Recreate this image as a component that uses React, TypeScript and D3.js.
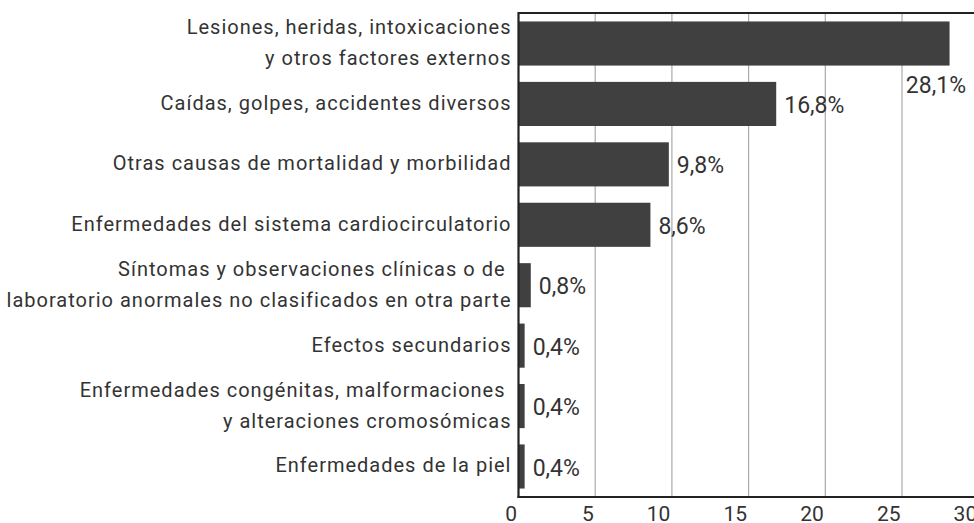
import React from "react";
import * as d3 from "d3";

const categories: string[][] = [
  ["Lesiones, heridas, intoxicaciones", "y otros factores externos"],
  ["Caídas, golpes, accidentes diversos"],
  ["Otras causas de mortalidad y morbilidad"],
  ["Enfermedades del sistema cardiocirculatorio"],
  ["Síntomas y observaciones clínicas o de ", "laboratorio anormales no clasificados en otra parte"],
  ["Efectos secundarios"],
  ["Enfermedades congénitas, malformaciones ", "y alteraciones cromosómicas"],
  ["Enfermedades de la piel"],
];
const values: number[] = [28.1, 16.8, 9.8, 8.6, 0.8, 0.4, 0.4, 0.4];
const valueLabels: string[] = ["28,1%", "16,8%", "9,8%", "8,6%", "0,8%", "0,4%", "0,4%", "0,4%"];
const ticks: number[] = [0, 5, 10, 15, 20, 25, 30];

const W = 974;
const H = 523;
const left = 518.5;
const top = 13;
const bottom = 497;
const FONT = "Roboto, 'DejaVu Sans', sans-serif";

export default function App() {
  const x = d3.scaleLinear().domain([0, 30]).range([left, left + 30 * 15.34]);
  const y = d3
    .scaleBand<number>()
    .domain(d3.range(values.length))
    .range([top, bottom])
    .paddingInner(0.27)
    .paddingOuter(0.14);
  const bw = y.bandwidth();
  return (
    <svg
      width={W}
      height={H}
      style={{ position: "absolute", left: 0, top: 0, background: "#fff" }}
      fontFamily={FONT}
    >
      {ticks
        .filter((t) => t > 0)
        .map((t) => (
          <line key={"g" + t} x1={x(t)} x2={x(t)} y1={top} y2={bottom} stroke="#aaaaaa" strokeWidth={1.2} />
        ))}
      {values.map((v, i) => (
        <rect key={"b" + i} x={x(0)} y={y(i)!} width={x(v) - x(0)} height={bw} fill="#404040" />
      ))}
      <line x1={left} x2={W} y1={top} y2={top} stroke="#222" strokeWidth={2} />
      <line x1={left} x2={left} y1={top - 1} y2={bottom + 1} stroke="#222" strokeWidth={2.2} />
      <line x1={left - 1} x2={W} y1={bottom} y2={bottom} stroke="#222" strokeWidth={2} />
      {ticks.map((t) => (
        <text key={"t" + t} x={x(t) - 1.5} y={520.5} textAnchor="end" fontSize={21} fill="#333">
          {t}
        </text>
      ))}
      {categories.map((lines, i) => {
        const cy = y(i)! + bw / 2 - 1;
        const lh = 31;
        const y0 = cy - ((lines.length - 1) * lh) / 2;
        return (
          <text
            key={"c" + i}
            x={left - 7}
            textAnchor="end"
            fontSize={20}
            letterSpacing={1}
            fill="#333"
            style={{ whiteSpace: "pre" }}
          >
            {lines.map((l, j) => (
              <tspan key={j} x={left - 7} y={y0 + j * lh} dy="0.35em">
                {l}
              </tspan>
            ))}
          </text>
        );
      })}
      {values.map((v, i) => {
        const lx = x(v) + 8;
        const overflow = lx + 62 > W;
        return (
          <text
            key={"v" + i}
            x={overflow ? W - 8 : lx}
            y={overflow ? y(i)! + bw + 19 : y(i)! + bw / 2 + 1}
            dy="0.35em"
            textAnchor={overflow ? "end" : "start"}
            fontSize={23}
            fill="#333"
          >
            {valueLabels[i]}
          </text>
        );
      })}
    </svg>
  );
}
